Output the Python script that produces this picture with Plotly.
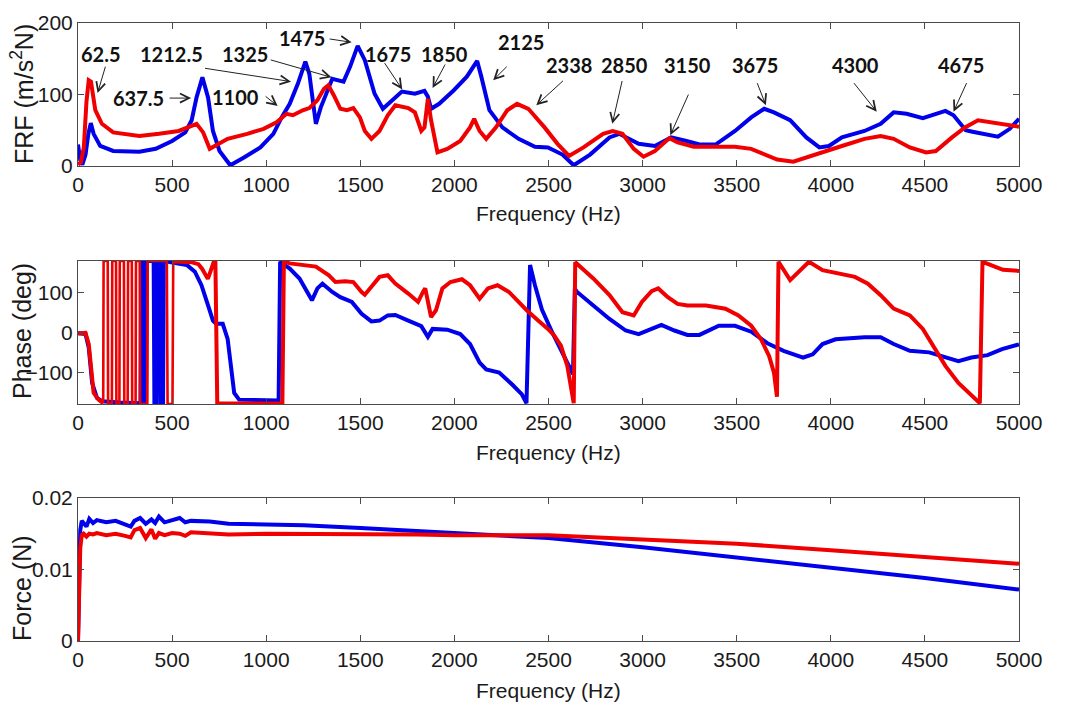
import plotly.graph_objects as go

# ---------------- FRF magnitude (m/s^2/N) ----------------
frf_blue_f = [0, 12, 23, 40, 55, 68, 83, 118, 187, 326, 413, 500, 570, 604, 630, 661, 691, 717, 752, 809,
              882, 969, 1038, 1082, 1125, 1168, 1208, 1229, 1264, 1290, 1351, 1385, 1411, 1446, 1486, 1524,
              1576, 1620, 1669, 1721, 1790, 1841, 1859, 1876, 1919, 1997, 2066, 2121, 2143, 2186, 2255, 2341,
              2428, 2497, 2574, 2634, 2721, 2824, 2876, 2979, 3065, 3152, 3233, 3302, 3388, 3491, 3577, 3646,
              3698, 3784, 3870, 3939, 3990, 4059, 4179, 4265, 4334, 4403, 4489, 4541, 4609, 4652, 4717, 4753,
              4888, 4951, 5000]
frf_blue = [30, 8, 2, 16, 45, 60, 45, 28, 21, 20, 24, 35, 47, 64, 96, 124, 96, 49, 21, 1,
            12, 26, 45, 68, 87, 115, 146, 129, 59, 82, 122, 120, 118, 139, 168, 148,
            101, 80, 92, 104, 101, 105, 97, 80, 87, 106, 125, 147, 125, 78, 54, 38,
            27, 26, 16, 1, 16, 40, 45, 31, 28, 40, 35, 30, 30, 49, 68, 80,
            75, 64, 40, 26, 28, 40, 49, 59, 75, 73, 67, 71, 77, 71, 50, 48,
            41, 52, 66]

frf_red_f = [0, 15, 31, 45, 57, 69, 92, 127, 187, 326, 431, 535, 630, 665, 700, 726, 795, 899, 986, 1055,
             1108, 1142, 1194, 1229, 1272, 1307, 1330, 1359, 1394, 1429, 1463, 1498, 1524, 1559, 1602, 1646,
             1686, 1755, 1790, 1824, 1841, 1859, 1876, 1910, 1962, 2031, 2083, 2105, 2134, 2169, 2221, 2281,
             2333, 2393, 2479, 2548, 2609, 2686, 2790, 2841, 2893, 2953, 3005, 3065, 3143, 3186, 3272, 3371,
             3491, 3577, 3646, 3715, 3801, 3870, 3939, 4059, 4179, 4265, 4334, 4420, 4506, 4558, 4644, 4713,
             4782, 4851, 4911, 5000]
frf_red = [2, 5, 26, 90, 120, 118, 78, 59, 47, 42, 45, 49, 59, 47, 24, 28, 38, 45, 52, 61,
           73, 71, 78, 81, 92, 108, 113, 99, 80, 78, 81, 68, 49, 38, 49, 71,
           85, 81, 75, 49, 54, 94, 64, 19, 24, 35, 54, 66, 49, 38, 54, 78,
           87, 80, 54, 31, 14, 26, 45, 49, 45, 24, 13, 21, 39, 33, 27, 27,
           27, 24, 16, 9, 6, 12, 19, 28, 38, 42, 38, 26, 19, 21, 40, 54,
           64, 61, 59, 55]

# ---------------- Phase (deg) ----------------
ph_blue_f = [0, 40, 57, 75, 101, 127, 220, 332, 336, 348, 352, 362, 366, 402, 406, 418, 422, 436, 440, 452,
             456, 535, 578, 621, 656, 691, 717, 734, 769, 795, 812, 830, 856, 951, 1066, 1074, 1085, 1125,
             1177, 1212, 1243, 1272, 1299, 1351, 1394, 1455, 1507, 1559, 1602, 1646, 1686, 1755, 1824, 1859,
             1884, 1962, 2031, 2083, 2134, 2169, 2238, 2307, 2359, 2383, 2402, 2428, 2465, 2520, 2583, 2630,
             2640, 2652, 2738, 2824, 2910, 2979, 3048, 3100, 3169, 3238, 3302, 3405, 3491, 3577, 3663, 3749,
             3853, 3904, 3956, 4025, 4179, 4265, 4334, 4420, 4523, 4609, 4678, 4747, 4833, 4910, 5000]
ph_blue = [-2, -4, -38, -127, -165, -173, -176, -178, 180, 180, -180, -180, 180, 180, -180, -180, 180, 180, -180, -180,
           180, 174, 170, 153, 119, 68, 30, 22, 22, -16, -84, -152, -169, -171, -171, 178, 174, 161,
           136, 106, 81, 111, 123, 102, 89, 77, 47, 28, 30, 43, 44, 30, 16, -11,
           9, 7, -4, -29, -76, -93, -101, -131, -156, -178, 170, 119, 58, 0, -59, -105,
           110, 102, 68, 34, 5, -4, 9, 19, 5, -6, -6, 17, 17, 2, -27, -46,
           -63, -55, -29, -17, -12, -12, -29, -46, -50, -63, -72, -63, -57, -42, -30]

# red phase: smooth part (None marks the wrapping band drawn separately)
ph_red_f = [0, 40, 57, 83, 109, 134, None, 506, 520, 600, 640, 660, 690, 705, 722, 730,
            740, 1086, 1094, 1125, 1194, 1264, 1333, 1368, 1420, 1463, 1507, 1524, 1559, 1602, 1646, 1686,
            1755, 1807, 1833, 1845, 1876, 1902, 1936, 1979, 2040, 2083, 2134, 2178, 2229, 2290, 2341, 2384,
            2445, 2497, 2531, 2566, 2600, 2622, 2634, 2642, 2738, 2824, 2893, 2953, 2996, 3048, 3083, 3134,
            3186, 3238, 3337, 3440, 3509, 3577, 3629, 3672, 3698, 3714, 3722, 3784, 3844, 3884, 3956, 4042,
            4128, 4197, 4265, 4334, 4420, 4489, 4541, 4609, 4678, 4747, 4792, 4806, 4867, 4915, 5000]
ph_red = [-2, -1, -29, -152, -169, -178, None, 180, 179, 177, 172, 160, 135, 155, 179, 179,
          -179, -179, 179, 174, 170, 166, 144, 127, 129, 127, 102, 95, 115, 140, 144, 123,
          98, 77, 102, 111, 39, 56, 111, 127, 134, 119, 85, 111, 119, 102, 77, 56,
          30, 9, -8, -33, -84, -144, -178, 177, 136, 94, 51, 43, 77, 104, 111, 89,
          72, 68, 68, 60, 43, 17, -17, -59, -101, -162, 178, 132, 161, 178, 157, 149,
          140, 123, 94, 60, 43, 9, -33, -84, -127, -156, -178, 178, 166, 158, 155]

# red phase: rapid wrapping band at low frequency
ph_red_band_f = [134, 136, 158, 160, 180, 182, 202, 204, 220, 222, 244, 246, 264, 266, 286,
                 288, 306, 308, 328, 330, 368, 370, 472, 476, 502, 506]
ph_red_band = [-178, 180, 180, -180, -180, 180, 180, -180, -180, 180, 180, -180, -180, 180, 180,
               -180, -180, 180, 180, -180, -180, 180, 180, -180, -180, 180]

# ---------------- Force (N) ----------------
force_blue_f = [0, 5, 12, 20, 30, 45, 60, 80, 100, 150, 200, 250, 280, 300, 330, 360, 390, 410, 430, 460,
                500, 540, 570, 600, 700, 800, 1000, 1200, 1500, 1800, 2000, 2500, 3000, 3500, 4000, 4500, 5000]
force_blue = [0, 0.006, 0.0155, 0.0168, 0.0165, 0.0160, 0.0171, 0.0165, 0.0169, 0.0166, 0.0168, 0.0163,
              0.0160, 0.0168, 0.0172, 0.0164, 0.0170, 0.0165, 0.0174, 0.0166, 0.0169, 0.0172, 0.0166, 0.0168,
              0.0167, 0.0164, 0.0163, 0.0162, 0.0158, 0.0154, 0.0151, 0.0144, 0.0131, 0.0117, 0.0102, 0.0088,
              0.0072]
force_red_f = force_blue_f
force_red = [0, 0.004, 0.0130, 0.0148, 0.0150, 0.0146, 0.0150, 0.0149, 0.0151, 0.0148, 0.0150, 0.0147,
             0.0145, 0.0155, 0.0158, 0.0144, 0.0156, 0.0143, 0.0151, 0.0148, 0.0151, 0.0150, 0.0147, 0.0152,
             0.0150, 0.0149, 0.0150, 0.0150, 0.0149, 0.0149, 0.0148, 0.0148, 0.0142, 0.0136, 0.0127, 0.0118,
             0.0108]

# ---------------- Peak annotations on the FRF panel ----------------
peak_labels = ["62.5", "637.5", "1212.5", "1100", "1325", "1475", "1675", "1850", "2125",
               "2338", "2850", "3150", "3675", "4300", "4675"]
label_x = [122, 322, 497, 837, 886, 1190, 1646, 1950, 2355, 2607, 2906, 3241, 3595, 4130, 4692]
label_y = [157, 95, 157, 96, 157, 179, 157, 157, 174, 141, 141, 141, 141, 141, 141]
arrow_tail_x = [148, 479, 667, 989, 1016, 1329, 1624, 1955, 2286, 2585, 2893, 3247, 3606, 4117, 4725]
arrow_tail_y = [141, 95, 137, 99, 149, 178, 146, 144, 141, 121, 121, 102, 118, 118, 118]
arrow_head_x = [104, 601, 1132, 1061, 1347, 1454, 1723, 1884, 2206, 2435, 2839, 3147, 3655, 4244, 4652]
arrow_head_y = [102, 95, 118, 84, 124, 173, 107, 109, 120, 85, 59, 43, 85, 76, 76]

freq_ticks = list(range(0, 5001, 500))

BLUE = "rgb(0,0,235)"
RED = "rgb(240,0,0)"
AXC = "#4a4a4a"
REG = "Liberation Sans, Arial, sans-serif"
LABEL_FONT = "Lato, Liberation Sans, sans-serif"

W, H = 1066, 708
x0, x1 = 78 / W, 1019 / W
panels = [(23, 166), (261, 404), (498, 641)]
doms = [[1 - b / H, 1 - t / H] for t, b in panels]

fig = go.Figure()
series = [
    (frf_blue_f, frf_blue, BLUE, "x", "y", 4),
    (frf_red_f, frf_red, RED, "x", "y", 4),
    (ph_blue_f, ph_blue, BLUE, "x2", "y2", 4),
    (ph_red_band_f, ph_red_band, RED, "x2", "y2", 2.6),
    (ph_red_f, ph_red, RED, "x2", "y2", 4),
    (force_blue_f, force_blue, BLUE, "x3", "y3", 4),
    (force_red_f, force_red, RED, "x3", "y3", 4),
]
for fx, fy, col, xa, ya, lw in series:
    fig.add_trace(go.Scatter(x=fx, y=fy, mode="lines", line=dict(color=col, width=lw),
                             connectgaps=False, xaxis=xa, yaxis=ya, showlegend=False, hoverinfo="skip"))

tick_font = dict(family=REG, size=21, color="#1a1a1a")
common_x = dict(range=[0, 5000], tickvals=freq_ticks, ticks="inside", ticklen=6, tickcolor=AXC,
                showline=True, linecolor=AXC, linewidth=1, mirror="ticks", showgrid=False, zeroline=False,
                tickfont=tick_font, automargin=False, domain=[x0, x1])
common_y = dict(ticks="inside", ticklen=6, tickcolor=AXC, showline=True, linecolor=AXC, linewidth=1,
                mirror="ticks", showgrid=False, zeroline=False, tickfont=tick_font, automargin=False)

fig.update_layout(
    width=W, height=H, margin=dict(l=0, r=0, t=0, b=0),
    paper_bgcolor="white", plot_bgcolor="white",
    xaxis=dict(common_x, anchor="y"),
    xaxis2=dict(common_x, anchor="y2"),
    xaxis3=dict(common_x, anchor="y3"),
    yaxis=dict(common_y, domain=doms[0], range=[0, 200], tickvals=[0, 100, 200], anchor="x"),
    yaxis2=dict(common_y, domain=doms[1], range=[-180, 180], tickvals=[-100, 0, 100], anchor="x2"),
    yaxis3=dict(common_y, domain=doms[2], range=[0, 0.02], tickvals=[0, 0.01, 0.02],
                ticktext=["0", "0.01", "0.02"], anchor="x3"),
)

annotations = []
# axis titles
for ycen in [214, 452, 690]:
    annotations.append(dict(text="Frequency (Hz)", xref="paper", yref="paper", x=548 / W, y=1 - ycen / H,
                            showarrow=False, xanchor="center", yanchor="middle",
                            font=dict(family=REG, size=21, color="#1a1a1a")))
for txt, ycen in [("FRF (m/s<sup>2</sup>N)", 94), ("Phase (deg)", 331), ("Force (N)", 588)]:
    annotations.append(dict(text=txt, xref="paper", yref="paper", x=22 / W, y=1 - ycen / H,
                            showarrow=False, textangle=-90, xanchor="center", yanchor="middle",
                            font=dict(family=REG, size=25, color="#1a1a1a")))
# peak labels in data coordinates of the FRF panel
for txt, lx, ly in zip(peak_labels, label_x, label_y):
    annotations.append(dict(text="<b>" + txt + "</b>", x=lx, y=ly, xref="x", yref="y", showarrow=False,
                            xanchor="center", yanchor="middle",
                            font=dict(family=LABEL_FONT, size=20, color="#111111")))
# arrows pointing from the labels to the peaks
for tx, ty, hx, hy in zip(arrow_tail_x, arrow_tail_y, arrow_head_x, arrow_head_y):
    annotations.append(dict(x=hx, y=hy, ax=tx, ay=ty, xref="x", yref="y", axref="x", ayref="y",
                            text="", showarrow=True, arrowhead=5, arrowsize=1.8, arrowwidth=1,
                            arrowcolor="#222222"))
fig.update_layout(annotations=annotations)

fig.write_html("out.html")
